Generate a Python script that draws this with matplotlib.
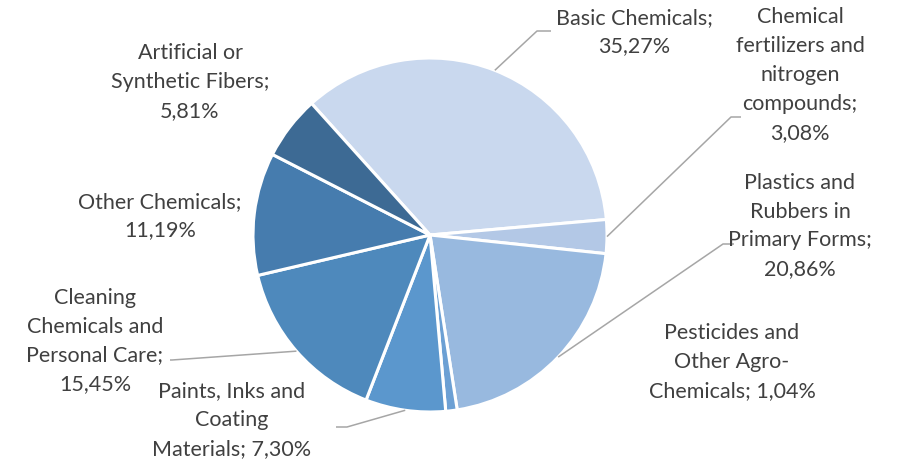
import numpy as np
import matplotlib
matplotlib.use("Agg")
import matplotlib.pyplot as plt

plt.rcParams['font.family'] = ['Lato', 'DejaVu Sans']

# share of chemical industry output by segment (%), clockwise order
segments = ["Basic Chemicals", "Chemical fertilizers and nitrogen compounds",
            "Plastics and Rubbers in Primary Forms", "Pesticides and Other Agro-Chemicals",
            "Paints, Inks and Coating Materials", "Cleaning Chemicals and Personal Care",
            "Other Chemicals", "Artificial or Synthetic Fibers"]
shares = [35.27, 3.08, 20.86, 1.04, 7.30, 15.45, 11.19, 5.81]
colors = ["#C9D8EE", "#B3C8E6", "#98B9DF", "#6CA0D4",
          "#5B97CD", "#4E89BC", "#467CAE", "#3D6A94"]

# label text wrapped like the data labels
label_lines = [
    ["Basic Chemicals;"],
    ["Chemical", "fertilizers and", "nitrogen", "compounds;"],
    ["Plastics and", "Rubbers in", "Primary Forms;"],
    ["Pesticides and", "Other Agro-", "Chemicals;"],
    ["Paints, Inks and", "Coating", "Materials;"],
    ["Cleaning", "Chemicals and", "Personal Care;"],
    ["Other Chemicals;"],
    ["Artificial or", "Synthetic Fibers;"],
]

W, H = 913, 463
fig = plt.figure(figsize=(W / 100, H / 100), dpi=100)
ax = fig.add_axes([0, 0, 1, 1])

cx, cy, r = 430, H - 235, 177
wedges, _ = ax.pie(shares, colors=colors, startangle=132, counterclock=False,
                   center=(cx, cy), radius=r, frame=True,
                   wedgeprops=dict(edgecolor="white", linewidth=2.2))
ax.set_xlim(0, W)
ax.set_ylim(0, H)
ax.axis("off")


def fmt(v):
    return f"{v:.2f}".replace(".", ",") + "%"


def label_text(i):
    lines = list(label_lines[i])
    pct = fmt(shares[i])
    # short last lines take the value on the same row
    if segments[i] in ("Pesticides and Other Agro-Chemicals",
                       "Paints, Inks and Coating Materials"):
        lines[-1] = lines[-1] + " " + pct
    else:
        lines.append(pct)
    return "\n".join(lines)


# label centres (pixels from top-left)
label_pos = [(634, 32), (800, 75), (800, 226), (732, 362),
             (232, 420), (95, 341), (160, 216), (190, 82)]
# leader elbow and end points, None where no leader is drawn
leaders = [((537, 31), (551, 31)), ((731, 117), (741, 117)),
           ((723, 244), (734, 244)), None,
           ((347, 427), (336, 427)), ((172, 360), (170, 360)),
           None, None]

for i, w in enumerate(wedges):
    x, y = label_pos[i]
    ax.text(x, H - y, label_text(i), ha="center", va="center",
            fontsize=15.5, color="#404040", linespacing=1.55)
    if leaders[i] is not None:
        mid = np.deg2rad((w.theta1 + w.theta2) / 2)
        sx, sy = cx + r * np.cos(mid), cy + r * np.sin(mid)
        (ex, ey), (fx, fy) = leaders[i]
        ax.plot([sx, ex, fx], [sy, H - ey, H - fy], color="#A6A6A6", lw=1.1,
                solid_capstyle="butt")

fig.savefig("out.png", dpi=100)
